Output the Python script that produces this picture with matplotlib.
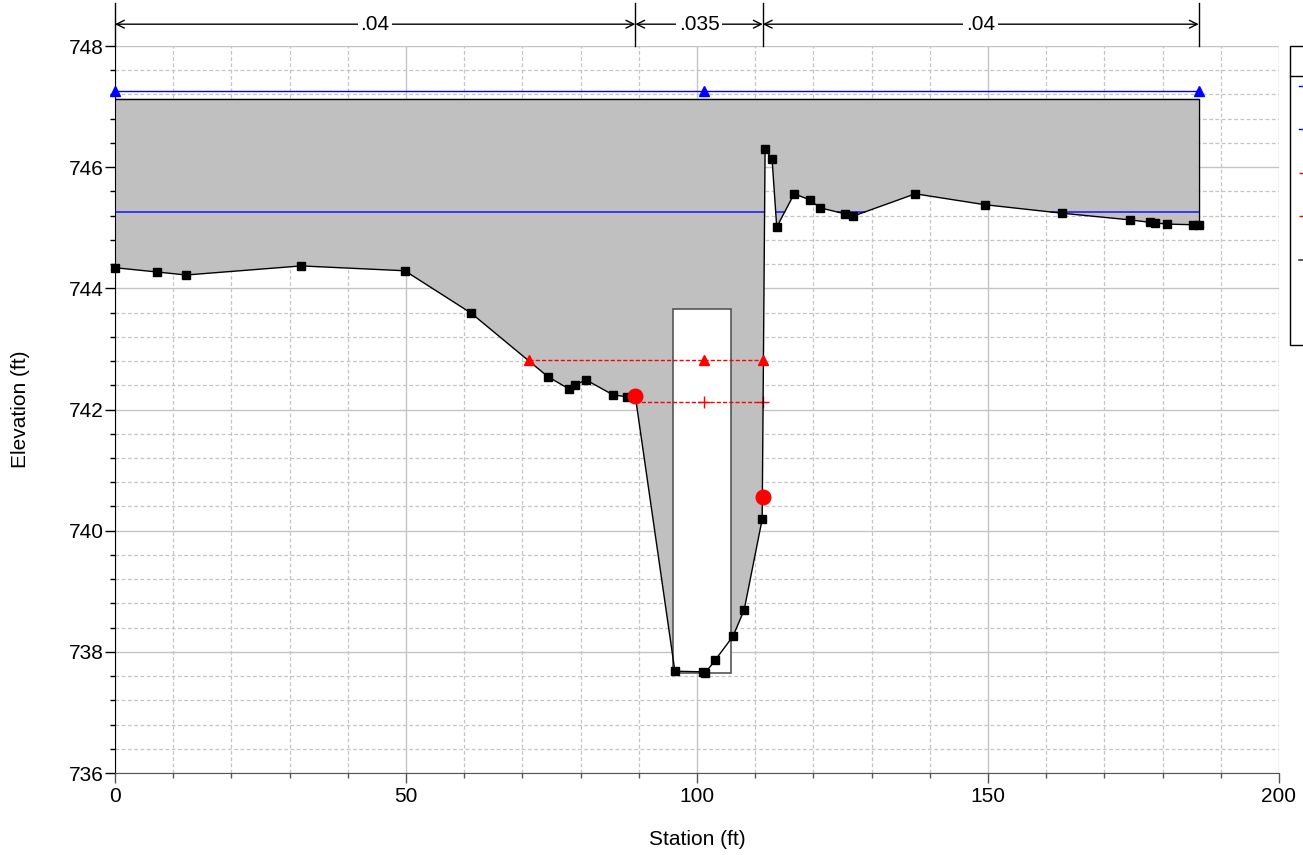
import numpy as np
import matplotlib
matplotlib.use("Agg")
import matplotlib.pyplot as plt
from matplotlib.lines import Line2D
from matplotlib.patches import Polygon, Rectangle
from matplotlib.ticker import MultipleLocator

plt.rcParams["font.family"] = ["Liberation Sans", "DejaVu Sans"]

# ground survey points (station ft, elevation ft)
ground_sta = [0.0, 7.2, 12.2, 32.0, 49.8, 61.2, 74.4, 78.0, 79.0, 80.9, 85.6, 88.0, 89.4,
              96.2, 101.0, 101.4, 103.1, 106.2, 108.1, 111.2, 111.7, 112.9, 113.7, 116.7,
              119.4, 121.1, 125.4, 126.8, 137.5, 149.5, 162.7, 174.4, 177.8, 178.7, 180.8,
              185.2, 186.2]
ground_elev = [744.34, 744.27, 744.22, 744.37, 744.29, 743.59, 742.54, 742.34, 742.40,
               742.49, 742.24, 742.21, 742.22, 737.68, 737.67, 737.65, 737.86, 738.26, 738.69,
               740.19, 746.30, 746.13, 745.01, 745.56, 745.46, 745.33, 745.23, 745.19, 745.56,
               745.38, 745.24, 745.13, 745.09, 745.08, 745.06, 745.05, 745.05]

# bridge deck / pier
high_chord = 747.13
pier_left, pier_right = 95.9, 105.8
pier_bottom, pier_top = 737.65, 743.66

# water surfaces
ws_max = 747.26
ws_max_sta = [0.0, 101.2, 186.2]
ws_pf1 = 745.26

crit_max = 742.82
crit_max_sta = [71.1, 101.2, 111.3]
crit_pf1 = 742.13
crit_pf1_sta = [89.4, 101.2, 111.3]

bank_sta = [89.4, 111.3]
bank_elev = [742.22, 740.56]

# Manning's n regions
n_bounds = [0.0, 89.4, 111.3, 186.2]
n_values = [".04", ".035", ".04"]

FS = 15

fig = plt.figure(figsize=(13.03, 8.55), dpi=100)
ax = fig.add_axes([115 / 1303, 1 - 773 / 855, (1279 - 115) / 1303, (773 - 46) / 855])

ax.set_xlim(0, 200)
ax.set_ylim(736, 748)
ax.xaxis.set_major_locator(MultipleLocator(50))
ax.xaxis.set_minor_locator(MultipleLocator(10))
ax.yaxis.set_major_locator(MultipleLocator(2))
ax.yaxis.set_minor_locator(MultipleLocator(0.4))
ax.set_axisbelow(True)
ax.grid(which="major", color="#c4c4c4", lw=1.0, ls="-")
ax.grid(which="minor", color="#c4c4c4", lw=0.9, ls=(0, (3, 2)))
for side in ("top", "right"):
    ax.spines[side].set_visible(False)
ax.spines["bottom"].set_color("#555555")
ax.tick_params(which="major", length=7, width=1, labelsize=FS, direction="out")
ax.tick_params(which="minor", length=3.6, width=1, direction="out")
ax.tick_params(axis="x", which="both", color="#555555", pad=3)
ax.tick_params(axis="y", which="major", pad=1)
ax.set_xlabel("Station (ft)", fontsize=FS, labelpad=17)
ax.set_ylabel("Elevation (ft)", fontsize=FS, labelpad=28)

# deck fill down to the ground
deck = [(ground_sta[0], high_chord), (ground_sta[-1], high_chord)]
deck += list(zip(ground_sta[::-1], ground_elev[::-1]))
ax.add_patch(Polygon(deck, closed=True, facecolor="#c0c0c0", edgecolor="none", zorder=1))
ax.plot([ground_sta[0], ground_sta[-1], ground_sta[-1]],
        [high_chord, high_chord, ground_elev[-1]], color="black", lw=1, zorder=2)

# pier
ax.add_patch(Rectangle((pier_left, pier_bottom), pier_right - pier_left, pier_top - pier_bottom,
                       facecolor="white", edgecolor="#555555", lw=1.2, zorder=2))

# water surfaces
ax.plot([ws_max_sta[0], ws_max_sta[-1]], [ws_max, ws_max], color="blue", lw=1, zorder=3)
ax.plot(ws_max_sta, [ws_max] * 3, ls="none", marker="^", ms=6.5, color="blue", zorder=3,
        clip_on=False)

# WS PF 1 only over the wet part of the section
st = np.linspace(ground_sta[0], ground_sta[-1], 5000)
gz = np.interp(st, ground_sta, ground_elev)
ax.plot(st, np.where(gz < ws_pf1, ws_pf1, np.nan), color="blue", lw=1, zorder=3)

ax.plot(crit_max_sta, [crit_max] * 3, color="red", lw=1, ls=(0, (3, 1.5)), marker="^", ms=6.5,
        zorder=5)
ax.plot(crit_pf1_sta, [crit_pf1] * 3, color="red", lw=1, ls=(0, (3, 1.5)), marker="+", ms=9,
        markevery=[1, 2], zorder=3)

# ground
ax.plot(ground_sta, ground_elev, color="black", lw=1.0, marker="s", ms=6, zorder=4,
        clip_on=False)

# bank stations
ax.plot(bank_sta, bank_elev, ls="none", marker="o", ms=10.5, color="red", zorder=5)

# n-value dimension lines above the plot
y_top, y_arrow = 748.71, 748.36
for x in n_bounds:
    ax.plot([x, x], [748, y_top], color="black", lw=1, clip_on=False)
for (x0, x1), label in zip(zip(n_bounds[:-1], n_bounds[1:]), n_values):
    ax.annotate("", xy=(x0, y_arrow), xytext=(x1, y_arrow), annotation_clip=False,
                arrowprops=dict(arrowstyle="<->", color="black", lw=1, shrinkA=0, shrinkB=0,
                                mutation_scale=14))
    ax.text((x0 + x1) / 2, y_arrow, label, ha="center", va="center", fontsize=FS, clip_on=False,
            bbox=dict(facecolor="white", edgecolor="none", pad=2))

# legend box with header strip (runs past the right edge)
fx, fw = 1290 / 1303, 0.2
fig.add_artist(Rectangle((fx, 1 - 345 / 855), fw, (345 - 46) / 855, transform=fig.transFigure,
                         facecolor="white", edgecolor="black", lw=1))
fig.add_artist(Line2D([fx, fx + fw], [1 - 76 / 855, 1 - 76 / 855],
                      transform=fig.transFigure, color="black", lw=1))

handles = [
    Line2D([], [], color="blue", lw=1, marker="^"),
    Line2D([], [], color="blue", lw=1),
    Line2D([], [], color="red", lw=1, ls="--", marker="^"),
    Line2D([], [], color="red", lw=1, ls="--", marker="+"),
    Line2D([], [], color="#404040", lw=1.2, marker="s"),
    Line2D([], [], color="red", ls="none", marker="o"),
]
labels = ["WS Max WS", "WS PF 1", "Crit Max WS", "Crit PF 1", "Ground", "Bank Sta"]
leg = fig.legend(handles, labels, loc="upper left", bbox_to_anchor=(fx, 1 - 69 / 855),
                 borderaxespad=0, fontsize=FS, frameon=False,
                 labelspacing=1.17, borderpad=0.45, handletextpad=0.6)

fig.savefig("out.png", dpi=100)
